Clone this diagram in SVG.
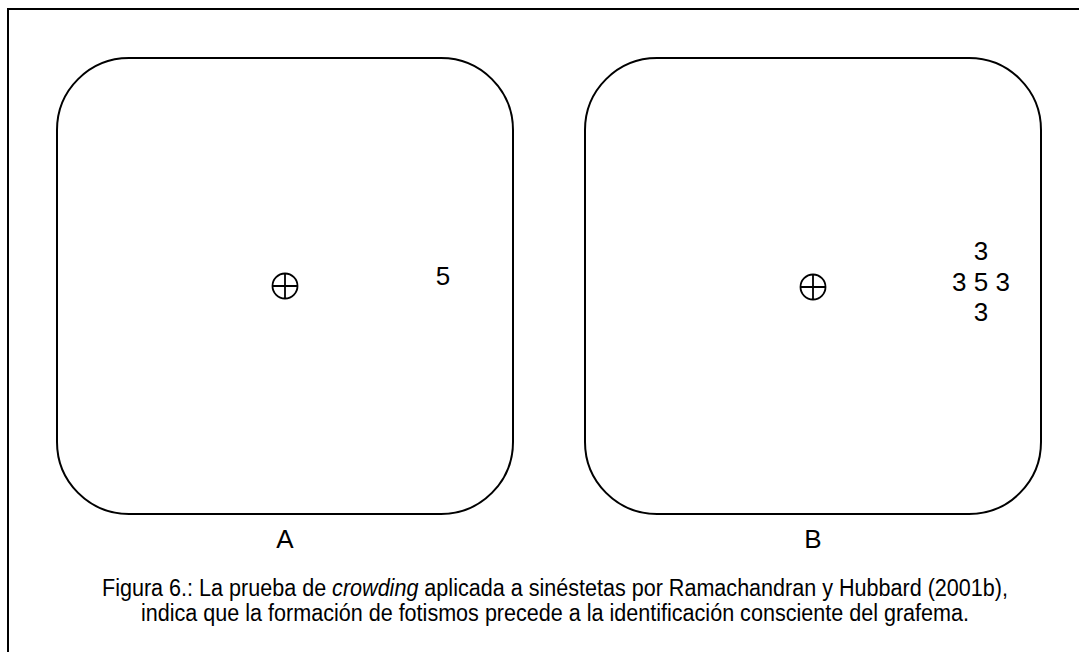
<svg xmlns="http://www.w3.org/2000/svg" width="1079" height="652" viewBox="0 0 1079 652">
<style>
.frame{fill:none;stroke:#000;stroke-width:2}
.panel{fill:#fff;stroke:#000;stroke-width:2}
.fix{fill:none;stroke:#000;stroke-width:1.8}
.dig{font-family:"Liberation Sans",Arial,sans-serif;font-size:26px;fill:#000;text-anchor:middle}
.lbl{font-family:"Liberation Sans",Arial,sans-serif;font-size:26px;fill:#000;text-anchor:middle}
.cap{font-family:"Liberation Sans",Arial,sans-serif;font-size:23px;fill:#000;text-anchor:middle}
</style>
<rect width="1079" height="652" fill="#fff"/>
<path class="frame" d="M8,660 V9 H1090"/>
<g id="panelA">
<rect class="panel" x="57" y="58" width="456" height="456" rx="72" ry="72"/>
<g class="fix"><circle cx="285" cy="286" r="12.5"/><path d="M272.5,286 H297.5 M285,273.5 V298.5"/></g>
<text class="dig" x="443" y="285">5</text>
<text class="lbl" x="285" y="548">A</text>
</g>
<g id="panelB">
<rect class="panel" x="585" y="58" width="456" height="456" rx="72" ry="72"/>
<g class="fix"><circle cx="813" cy="287" r="12.5"/><path d="M800.5,287 H825.5 M813,274.5 V299.5"/></g>
<text class="dig" x="981" y="260">3</text>
<text class="dig" x="981" y="291">3 5 3</text>
<text class="dig" x="981" y="321">3</text>
<text class="lbl" x="813" y="548">B</text>
</g>
<g id="caption">
<text class="cap" x="555" y="596" textLength="906" lengthAdjust="spacingAndGlyphs">Figura 6.: La prueba de <tspan font-style="italic">crowding</tspan> aplicada a sinéstetas por Ramachandran y Hubbard (2001b),</text>
<text class="cap" x="555" y="621" textLength="828" lengthAdjust="spacingAndGlyphs">indica que la formación de fotismos precede a la identificación consciente del grafema.</text>
</g>
<g id="connectors"/>
</svg>
